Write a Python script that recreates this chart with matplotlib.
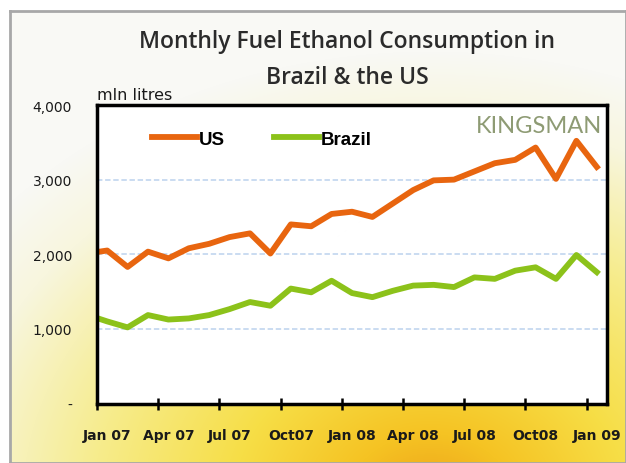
import numpy as np
import matplotlib
matplotlib.use("Agg")
import matplotlib.pyplot as plt

# monthly data, Dec 06 (clipped at left edge) .. Jan 09
months = ["Dec 06",
          "Jan 07", "Feb 07", "Mar 07", "Apr 07", "May 07", "Jun 07",
          "Jul 07", "Aug 07", "Sep 07", "Oct 07", "Nov 07", "Dec 07",
          "Jan 08", "Feb 08", "Mar 08", "Apr 08", "May 08", "Jun 08",
          "Jul 08", "Aug 08", "Sep 08", "Oct 08", "Nov 08", "Dec 08",
          "Jan 09"]
us = [2010,
      2050, 1830, 2035, 1945, 2080, 2140, 2230, 2280, 2010, 2400, 2375, 2540,
      2570, 2500, 2680, 2860, 2990, 3000, 3110, 3220, 3265, 3430, 3010, 3520,
      3170]
brazil = [1190,
          1100, 1020, 1185, 1125, 1140, 1185, 1265, 1360, 1310, 1540, 1490, 1645,
          1480, 1425, 1510, 1580, 1590, 1560, 1690, 1670, 1780, 1825, 1670, 1990,
          1760]
tick_labels = ["Jan 07", "Apr 07", "Jul 07", "Oct07", "Jan 08", "Apr 08",
               "Jul 08", "Oct08", "Jan 09"]
y_ticks = [0, 1000, 2000, 3000, 4000]
y_labels = ["-", "1,000", "2,000", "3,000", "4,000"]

W, H = 626, 464
fig = plt.figure(figsize=(W / 100, H / 100), dpi=100)
fig.patch.set_facecolor("white")

# background: cream at top, yellow/orange sun glow at the bottom
bg = fig.add_axes([10 / W, 0, 1 - 10 / W, 1 - 12 / H])
yy, xx = np.mgrid[0:452, 0:616]
r = np.hypot((xx - 420) * 0.8, (yy - 490) * 1.0)
t = np.clip(r / 450, 0, 1)
stops = np.array([0.0, 0.15, 0.35, 0.6, 0.85, 1.0])
cols = np.array([[238, 160, 25], [245, 195, 35], [247, 222, 70],
                 [246, 236, 140], [248, 246, 222], [249, 249, 245]]) / 255
img = np.stack([np.interp(t, stops, cols[:, k]) for k in range(3)], axis=-1)
bg.imshow(img, aspect="auto", extent=[0, 1, 0, 1], origin="upper")
bg.set_xticks([]), bg.set_yticks([])
for s in bg.spines.values():
    s.set_color("#a8a8a8")
    s.set_linewidth(2)

ax = fig.add_axes([97 / W, (H - 404.5) / H, (607 - 97) / W, (404.5 - 106) / H])
ax.set_facecolor("white")
x = np.arange(len(months)) - 1

ax.plot(x, us, color="#e8650f", lw=4.2, label="US")
ax.plot(x, brazil, color="#8cc21a", lw=4.2, label="Brazil")

ax.set_xlim(-0.5, 24.5)
ax.set_ylim(0, 4000)
ax.set_yticks(y_ticks)
ax.set_yticklabels(y_labels, fontsize=10, family="DejaVu Sans", color="#1a1a1a")
for yv in y_ticks[1:-1]:
    ax.axhline(yv, color="#c6d9f0", lw=1.3, ls=(0, (3, 1.5)), zorder=0)

ax.set_xticks(np.arange(-0.5, 25, 3))
ax.set_xticklabels([])
ax.set_xticks(np.arange(0, 25, 3), minor=True)
ax.set_xticklabels(tick_labels, minor=True, fontsize=10, family="DejaVu Sans",
                   fontweight="bold", color="#1a1a1a")
ax.tick_params(axis="x", which="major", direction="inout", length=9, width=1.8)
ax.tick_params(axis="x", which="minor", length=0, pad=18)
ax.tick_params(axis="y", length=0, pad=18)
for s in ax.spines.values():
    s.set_linewidth(2.5)
    s.set_color("black")

ax.legend(loc="upper left", bbox_to_anchor=(0.075, 0.97), ncol=2, frameon=False,
          handlelength=2.4, handletextpad=0.1, columnspacing=2.6,
          prop={"family": "Liberation Sans", "weight": "bold", "size": 13.5})

ax.text(0.99, 0.93, "KINGSMAN", transform=ax.transAxes, ha="right", va="center",
        fontsize=17, color="#8e9b74", family="Lato")

fig.text(97 / W, 1 - 95 / H, "mln litres", fontsize=11.5, family="DejaVu Sans",
         color="#1a1a1a", va="center", ha="left")
fig.text(347 / W, 1 - 42 / H, "Monthly Fuel Ethanol Consumption in", fontsize=16.5,
         family="Open Sans", fontweight="semibold", color="#2b2b2b",
         ha="center", va="center")
fig.text(347 / W, 1 - 78 / H, "Brazil & the US", fontsize=16.5,
         family="Open Sans", fontweight="semibold", color="#2b2b2b",
         ha="center", va="center")

fig.savefig("out.png", dpi=100, facecolor=fig.get_facecolor())
